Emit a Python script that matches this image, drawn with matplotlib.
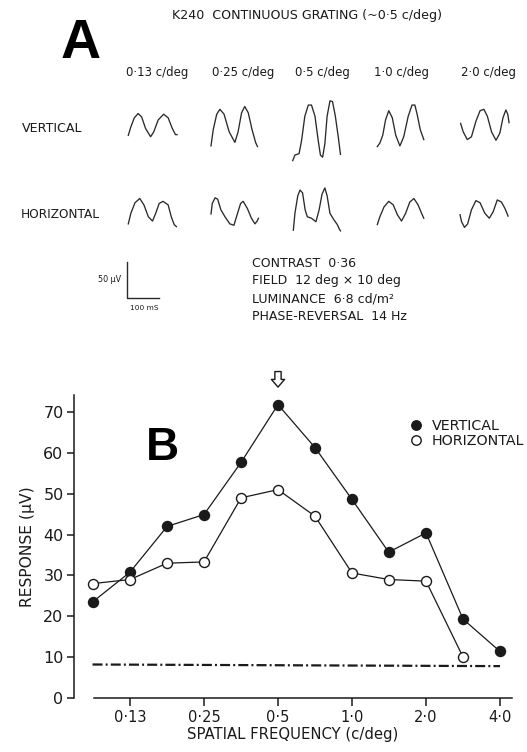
import matplotlib
matplotlib.use("Agg")
import matplotlib.pyplot as plt
from matplotlib.lines import Line2D
from matplotlib.ticker import NullLocator

W, H = 527, 752

# ---- panel B data ----
freqs = [0.088, 0.125, 0.177, 0.25, 0.354, 0.5, 0.707, 1.0, 1.41, 2.0, 2.83, 4.0]
vertical = [23.5, 30.8, 42.0, 44.9, 57.7, 71.8, 61.3, 48.6, 35.7, 40.4, 19.3, 11.4]
horizontal = [28.0, 29.0, 33.0, 33.3, 49.0, 51.0, 44.5, 30.6, 29.0, 28.6, 10.0]
noise_level = [8.2, 7.8]  # dash-dot line, left and right end
tick_freqs = [0.125, 0.25, 0.5, 1.0, 2.0, 4.0]
tick_labels = ["0·13", "0·25", "0·5", "1·0", "2·0", "4·0"]
y_ticks = [0, 10, 20, 30, 40, 50, 60, 70]
best_freq = 0.5

# ---- panel A data: traces as (ms, uV) samples ----
col_labels = ["0·13 c/deg", "0·25 c/deg", "0·5 c/deg", "1·0 c/deg", "2·0 c/deg"]
row_labels = ["VERTICAL", "HORIZONTAL"]

v_t = [
    [0, 8, 19, 31, 42, 54, 70, 80, 94, 111, 125, 138, 148, 153],
    [0, 7, 18, 28, 41, 57, 75, 85, 96, 106, 117, 129, 140, 146],
    [0, 7, 20, 28, 38, 49, 59, 70, 80, 87, 94, 101, 108, 117, 125, 134, 143, 150],
    [0, 8, 17, 26, 36, 47, 58, 71, 83, 97, 109, 118, 125, 135, 146],
    [2, 10, 23, 36, 50, 63, 75, 86, 99, 113, 125, 135, 144, 150, 154],
]
v_uv = [
    [-10, 2, 15, 21, 16, 0, -12, -5, 12, 20, 15, 0, -9, -9],
    [-25, -2, 20, 27, 20, -5, -20, -5, 22, 31, 22, -2, -20, -26],
    [-46, -38, -36, -17, 17, 33, 33, 17, -17, -38, -41, -22, 17, 39, 38, 17, -12, -37],
    [-26, -21, -10, 12, 25, 15, -10, -25, -12, 17, 33, 33, 20, -2, -16],
    [7, -5, -16, -12, 10, 25, 27, 17, -5, -17, -7, 15, 26, 20, 8],
]
h_t = [
    [0, 8, 21, 36, 49, 63, 76, 86, 97, 109, 125, 135, 144, 151],
    [0, 4, 13, 21, 31, 44, 59, 72, 82, 93, 101, 114, 127, 138, 145, 149],
    [2, 7, 16, 23, 31, 39, 46, 59, 73, 83, 92, 101, 108, 117, 129, 140, 146, 150],
    [0, 8, 21, 36, 50, 63, 76, 89, 102, 115, 128, 139, 146],
    [0, 5, 14, 24, 36, 50, 63, 78, 92, 104, 117, 130, 141, 151],
]
h_uv = [
    [-15, 0, 15, 21, 12, -5, -11, 0, 14, 17, 12, -5, -16, -19],
    [-1, 14, 22, 20, 5, -5, -15, -17, -2, 14, 17, 7, -7, -15, -11, -7],
    [-24, 0, 25, 33, 29, 5, -5, -7, -12, 5, 27, 36, 25, 0, -9, -16, -22, -25],
    [-16, -5, 9, 17, 12, -2, -11, 0, 16, 21, 12, 0, -7],
    [-2, -12, -20, -15, 5, 18, 15, 0, -7, 2, 19, 16, 7, -4],
]

INK = "#1a1a1a"
plt.rcParams['font.family'] = ['DejaVu Sans']

fig = plt.figure(figsize=(W / 100, H / 100), dpi=100)


def fx(x):
    return x / W


def fy(y):
    return 1 - y / H


# ================= panel A =================
MS_PER_PX = 3.14
UV_PER_PX = 1.42
axA = fig.add_axes([0, fy(330), 1, 330 / H])
axA.set_xlim(0, W * MS_PER_PX)
axA.set_ylim(-330 * UV_PER_PX, 0)
axA.axis("off")

col_x = [128.3, 211, 292.7, 377.3, 460]
row_y = [128.3, 213.3]
for r, (ts, vs) in enumerate([(v_t, v_uv), (h_t, h_uv)]):
    for c in range(5):
        x0 = col_x[c] * MS_PER_PX
        y0 = -row_y[r] * UV_PER_PX
        axA.plot([x0 + t for t in ts[c]], [y0 + v for v in vs[c]],
                 color="#2a2a2a", lw=0.95, solid_joinstyle="round")

# scale bar 50 uV / 100 ms
sx, sy = 127.3 * MS_PER_PX, -297.7 * UV_PER_PX
axA.plot([sx, sx, sx + 100], [sy + 50, sy, sy], color="#2a2a2a", lw=1.0)
fig.text(fx(110), fy(280), "50 µV", fontsize=5.8, ha="center", va="center", color=INK)
fig.text(fx(144), fy(307.5), "100 mS", fontsize=5.3, ha="center", va="center", color=INK)

fig.text(fx(81), fy(58), "A", fontsize=40, fontweight="bold", family="Liberation Sans",
         ha="center", va="baseline", color="black")
fig.text(fx(307), fy(19.5), "K240  CONTINUOUS GRATING (~0·5 c/deg)", fontsize=9.1,
         ha="center", va="baseline", color=INK)
for lab, cx in zip(col_labels, [157, 243, 322.5, 401, 488.5]):
    fig.text(fx(cx), fy(76), lab, fontsize=8.5, ha="center", va="baseline", color=INK)
fig.text(fx(22), fy(131.5), row_labels[0], fontsize=9.1, ha="left", va="baseline", color=INK)
fig.text(fx(21), fy(217.5), row_labels[1], fontsize=8.7, ha="left", va="baseline", color=INK)

info = ["CONTRAST  0·36", "FIELD  12 deg × 10 deg", "LUMINANCE  6·8 cd/m²",
        "PHASE-REVERSAL  14 Hz"]
for line, by in zip(info, [267, 284.5, 302, 320]):
    fig.text(fx(252), fy(by), line, fontsize=9.0, ha="left", va="baseline", color=INK)

# ================= panel B =================
L, R, B, T = 74, 512, 698, 395
ax = fig.add_axes([fx(L), fy(B), (R - L) / W, (B - T) / H])
ax.set_xscale("log", base=2)
px_per_oct = 74.0
lo = -3.5 - (93 - L) / px_per_oct
hi = -3.5 + (R - 93) / px_per_oct
ax.set_xlim(2 ** lo, 2 ** hi)
px_per_unit = (698 - 412) / 70
ax.set_ylim(0, (B - T) / px_per_unit)

ax.plot(freqs[:len(vertical)], vertical, color=INK, lw=0.9, marker="o", ms=7.2,
        mfc=INK, mec=INK, mew=1.0, zorder=3)
ax.plot(freqs[:len(horizontal)], horizontal, color=INK, lw=0.9, marker="o", ms=7.2,
        mfc="white", mec=INK, mew=1.0, zorder=4)
ax.plot([freqs[0], freqs[-1]], noise_level, color=INK, lw=1.6,
        linestyle=(0, (4.5, 1.4, 0.9, 1.4)), zorder=2)

ax.annotate("", xy=(best_freq, 76.1), xytext=(best_freq, 79.9),
            arrowprops=dict(arrowstyle="simple,head_length=0.55,head_width=0.95,tail_width=0.45",
                            fc="white", ec=INK, lw=1.0, mutation_scale=10,
                            shrinkA=0, shrinkB=0),
            annotation_clip=False)

for s in ("top", "right"):
    ax.spines[s].set_visible(False)
ax.spines["left"].set_linewidth(1.1)
ax.spines["bottom"].set_linewidth(1.1)
ax.spines["bottom"].set_bounds(2 ** -3.48, 2 ** hi)
ax.spines["left"].set_color(INK)
ax.spines["bottom"].set_color(INK)

ax.set_xticks(tick_freqs)
ax.set_xticklabels(tick_labels)
ax.xaxis.set_minor_locator(NullLocator())
ax.set_yticks(y_ticks)
ax.tick_params(axis="x", direction="out", length=6, width=1.1, pad=3, labelsize=10.5,
               colors=INK)
ax.tick_params(axis="y", direction="out", length=5, width=1.1, pad=2.5, labelsize=11.5,
               colors=INK)

ax.set_xlabel("SPATIAL FREQUENCY (c/deg)", fontsize=10.7, color=INK, labelpad=1)
ax.set_ylabel("RESPONSE (µV)", fontsize=11.2, color=INK, labelpad=6)

fig.text(fx(162), fy(460), "B", fontsize=33, fontweight="bold", family="Liberation Sans",
         ha="center", va="baseline", color="black")

handles = [Line2D([], [], linestyle="none", marker="o", ms=6.8, mfc=INK, mec=INK),
           Line2D([], [], linestyle="none", marker="o", ms=6.8, mfc="white", mec=INK, mew=1.0)]
leg = ax.legend(handles, ["VERTICAL", "HORIZONTAL"], loc="upper left",
                bbox_to_anchor=(fx(411), fy(419)), bbox_transform=fig.transFigure,
                frameon=False, fontsize=10.3, handlelength=0.7, handletextpad=0.75,
                labelspacing=0.05, borderpad=0, borderaxespad=0, numpoints=1)
for t in leg.get_texts():
    t.set_color(INK)

fig.savefig("out.png", dpi=100)
